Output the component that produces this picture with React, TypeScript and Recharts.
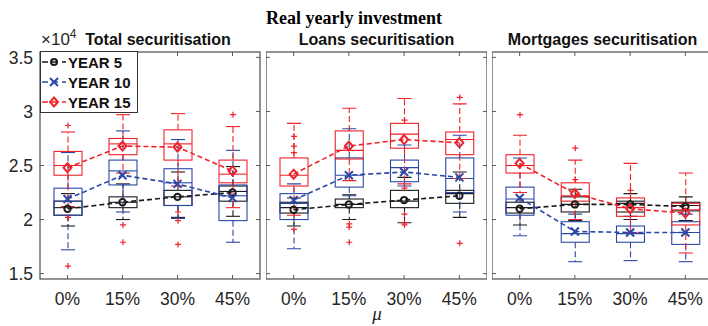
import React from "react";
import { ComposedChart, Bar, Line, XAxis, YAxis, ReferenceArea } from "recharts";

const categories = ["0%", "15%", "30%", "45%"];
const yTicks = [1.5, 2, 2.5, 3, 3.5];
const yDomain = [1.45, 3.55];

// each box: [lower whisker, q1, median, q3, upper whisker]
const totalYear5Box = [
  [1.94, 2.04, 2.11, 2.17, 2.24],
  [2.0, 2.11, 2.16, 2.21, 2.33],
  [2.02, 2.13, 2.21, 2.27, 2.44],
  [2.03, 2.17, 2.26, 2.31, 2.49],
];
const totalYear10Box = [
  [1.72, 2.04, 2.17, 2.29, 2.62],
  [2.07, 2.32, 2.45, 2.55, 2.82],
  [2.01, 2.13, 2.34, 2.47, 2.74],
  [1.79, 1.99, 2.22, 2.32, 2.64],
];
const totalYear15Box = [
  [2.12, 2.41, 2.5, 2.63, 2.81],
  [2.43, 2.6, 2.7, 2.75, 2.97],
  [2.31, 2.55, 2.7, 2.83, 2.98],
  [2.11, 2.34, 2.42, 2.55, 2.86],
];
const totalYear5Mean = [2.1, 2.16, 2.21, 2.25];
const totalYear10Mean = [2.19, 2.41, 2.33, 2.2];
const totalYear15Mean = [2.48, 2.68, 2.67, 2.45];
const totalOutliers = [[2.87, 2.02, 1.57], [1.95, 1.79], [2.07, 1.99, 1.77], [2.97]];

const loansYear5Box = [
  [1.94, 2.06, 2.11, 2.16, 2.2],
  [2.0, 2.11, 2.14, 2.19, 2.23],
  [1.97, 2.11, 2.17, 2.27, 2.39],
  [2.02, 2.15, 2.24, 2.27, 2.44],
];
const loansYear10Box = [
  [1.73, 2.0, 2.15, 2.24, 2.33],
  [2.22, 2.3, 2.41, 2.57, 2.84],
  [2.31, 2.35, 2.48, 2.55, 2.69],
  [2.07, 2.25, 2.38, 2.57, 2.78],
];
const loansYear15Box = [
  [2.04, 2.31, 2.41, 2.57, 2.89],
  [2.36, 2.56, 2.64, 2.82, 3.03],
  [2.33, 2.66, 2.79, 2.89, 3.12],
  [2.38, 2.6, 2.74, 2.81, 3.07],
];
const loansYear5Mean = [2.09, 2.14, 2.18, 2.22];
const loansYear10Mean = [2.18, 2.41, 2.44, 2.39];
const loansYear15Mean = [2.42, 2.68, 2.74, 2.71];
const loansOutliers = [
  [2.77, 2.68, 2.62, 1.91],
  [1.96, 1.93, 1.79],
  [2.92, 2.29, 2.05, 1.97, 1.95],
  [3.13, 1.78],
];

const mortgagesYear5Box = [
  [1.95, 2.06, 2.11, 2.16, 2.25],
  [1.99, 2.07, 2.14, 2.21, 2.28],
  [2.0, 2.07, 2.15, 2.17, 2.24],
  [1.99, 2.08, 2.13, 2.16, 2.21],
];
const mortgagesYear10Box = [
  [1.85, 2.04, 2.19, 2.3, 2.57],
  [1.61, 1.79, 1.87, 1.98, 2.05],
  [1.62, 1.79, 1.87, 1.94, 2.03],
  [1.61, 1.77, 1.88, 1.98, 2.05],
];
const mortgagesYear15Box = [
  [2.25, 2.43, 2.5, 2.6, 2.78],
  [2.0, 2.17, 2.22, 2.34, 2.55],
  [1.88, 2.03, 2.11, 2.2, 2.52],
  [1.69, 1.95, 2.09, 2.15, 2.43],
];
const mortgagesYear5Mean = [2.1, 2.14, 2.14, 2.12];
const mortgagesYear10Mean = [2.2, 1.89, 1.88, 1.88];
const mortgagesYear15Mean = [2.52, 2.24, 2.1, 2.06];
const mortgagesOutliers = [[2.97], [2.66, 2.37], [2.27], []];

const BLACK = "#1a1a1a";
const BLUE = "#2b48a6";
const RED = "#f0222a";
const AXIS = "#5a5a5a";
const TEXT = "#262626";
const SANS = "'Liberation Sans', Arial, sans-serif";

function buildRows(y5, y5m, y10, y10m, y15, y15m, outliers) {
  return categories.map((mu, i) => ({
    mu,
    y5: y5[i],
    y10: y10[i],
    y15: y15[i],
    y5Mean: y5m[i],
    y10Mean: y10m[i],
    y15Mean: y15m[i],
    out: outliers[i],
  }));
}

const totalRows = buildRows(totalYear5Box, totalYear5Mean, totalYear10Box, totalYear10Mean, totalYear15Box, totalYear15Mean, totalOutliers);
const loansRows = buildRows(loansYear5Box, loansYear5Mean, loansYear10Box, loansYear10Mean, loansYear15Box, loansYear15Mean, loansOutliers);
const mortgagesRows = buildRows(mortgagesYear5Box, mortgagesYear5Mean, mortgagesYear10Box, mortgagesYear10Mean, mortgagesYear15Box, mortgagesYear15Mean, mortgagesOutliers);

const rangeOf = (key: string, withOut: boolean) => (d: any) => {
  const b = d[key];
  const pts = withOut ? d.out : [];
  return [Math.min(b[0], ...pts), Math.max(b[4], ...pts)];
};

// box + whiskers + outliers, positioned from the bar's own scaled range
const boxShape = (key: string, color: string, withOut: boolean) => (props: any) => {
  const { x, y, width, height, payload } = props;
  const b = payload[key];
  const pts: number[] = withOut ? payload.out : [];
  const [lo, hi] = rangeOf(key, withOut)(payload);
  const top = Math.min(y, y + height);
  const bottom = Math.max(y, y + height);
  const py = (v: number) => top + ((hi - v) / (hi - lo)) * (bottom - top);
  const cx = x + width / 2;
  const cap = width / 4;
  return (
    <g>
      <line x1={cx} x2={cx} y1={py(b[3])} y2={py(b[4])} stroke={color} strokeWidth={1.1} strokeDasharray="6 3" />
      <line x1={cx} x2={cx} y1={py(b[1])} y2={py(b[0])} stroke={color} strokeWidth={1.1} strokeDasharray="6 3" />
      <line x1={cx - cap} x2={cx + cap} y1={py(b[4])} y2={py(b[4])} stroke={color} strokeWidth={1.1} />
      <line x1={cx - cap} x2={cx + cap} y1={py(b[0])} y2={py(b[0])} stroke={color} strokeWidth={1.1} />
      <rect x={x} y={py(b[3])} width={width} height={py(b[1]) - py(b[3])} fill="none" stroke={color} strokeWidth={1.1} />
      <line x1={x} x2={x + width} y1={py(b[2])} y2={py(b[2])} stroke={color} strokeWidth={1.1} />
      {pts.map((o, i) => (
        <path key={i} d={`M${cx - 3},${py(o)}h6M${cx},${py(o) - 3}v6`} stroke={RED} strokeWidth={1.2} />
      ))}
    </g>
  );
};

// axes box with inward ticks, from the reference area's scaled corners
const frameShape = (props: any) => {
  const left = Math.min(props.x, props.x + props.width);
  const top = Math.min(props.y, props.y + props.height);
  const w = Math.abs(props.width);
  const h = Math.abs(props.height);
  const py = (v: number) => top + ((yDomain[1] - v) / (yDomain[1] - yDomain[0])) * h;
  const band = w / categories.length;
  return (
    <g>
      <rect x={left} y={top} width={w} height={h} fill="none" stroke={AXIS} strokeWidth={1.3} />
      {yTicks.map((v) => (
        <path key={v} d={`M${left},${py(v)}h4M${left + w},${py(v)}h-4`} stroke={AXIS} strokeWidth={1} />
      ))}
      {categories.map((c, i) => (
        <path key={c} d={`M${left + band * (i + 0.5)},${top}v4M${left + band * (i + 0.5)},${top + h}v-4`} stroke={AXIS} strokeWidth={1} />
      ))}
    </g>
  );
};

const circleDot = (p: any) => <circle key={p.index} cx={p.cx} cy={p.cy} r={3.2} fill="none" stroke={BLACK} strokeWidth={2} />;
const crossDot = (p: any) => (
  <path key={p.index} d={`M${p.cx - 4},${p.cy - 4}L${p.cx + 4},${p.cy + 4}M${p.cx - 4},${p.cy + 4}L${p.cx + 4},${p.cy - 4}`} stroke={BLUE} strokeWidth={2} />
);
const diamondDot = (p: any) => (
  <path key={p.index} d={`M${p.cx},${p.cy - 4.5}L${p.cx + 4},${p.cy}L${p.cx},${p.cy + 4.5}L${p.cx - 4},${p.cy}Z`} fill="none" stroke={RED} strokeWidth={2} />
);

const tickStyle = { fontSize: 17.5, fill: TEXT, fontFamily: SANS };

function Panel({ rows, left, width, yAxisWidth, rightMargin }: any) {
  return (
    <div style={{ position: "absolute", left, top: 0 }}>
      <ComposedChart width={width} height={326} data={rows} margin={{ top: 52, right: rightMargin, bottom: 17, left: 0 }}>
        <XAxis xAxisId="main" dataKey="mu" height={30} tickSize={0} tickMargin={14} tickLine={false} axisLine={false} tick={tickStyle} interval={0} />
        <XAxis xAxisId="b5" dataKey="mu" height={0} hide />
        <XAxis xAxisId="b10" dataKey="mu" height={0} hide />
        <XAxis xAxisId="b15" dataKey="mu" height={0} hide />
        <YAxis
          yAxisId="left"
          type="number"
          domain={yDomain}
          ticks={yTicks}
          allowDataOverflow
          hide={yAxisWidth === 0}
          width={yAxisWidth}
          tickSize={0}
          tickMargin={7}
          tickLine={false}
          axisLine={false}
          tick={tickStyle}
          interval={0}
        />
        <ReferenceArea xAxisId="main" yAxisId="left" y1={yDomain[1]} y2={yDomain[0]} ifOverflow="visible" shape={frameShape} />
        <Bar xAxisId="b5" yAxisId="left" dataKey={rangeOf("y5", false)} barSize={28} shape={boxShape("y5", BLACK, false)} isAnimationActive={false} />
        <Bar xAxisId="b10" yAxisId="left" dataKey={rangeOf("y10", false)} barSize={28} shape={boxShape("y10", BLUE, false)} isAnimationActive={false} />
        <Bar xAxisId="b15" yAxisId="left" dataKey={rangeOf("y15", true)} barSize={28} shape={boxShape("y15", RED, true)} isAnimationActive={false} />
        <Line xAxisId="main" yAxisId="left" dataKey="y5Mean" stroke={BLACK} strokeWidth={1.6} strokeDasharray="5 3" dot={circleDot} activeDot={false} isAnimationActive={false} />
        <Line xAxisId="main" yAxisId="left" dataKey="y10Mean" stroke={BLUE} strokeWidth={1.6} strokeDasharray="5 3" dot={crossDot} activeDot={false} isAnimationActive={false} />
        <Line xAxisId="main" yAxisId="left" dataKey="y15Mean" stroke={RED} strokeWidth={1.6} strokeDasharray="5 3" dot={diamondDot} activeDot={false} isAnimationActive={false} />
      </ComposedChart>
    </div>
  );
}

const legendItems = [
  { label: "YEAR 5", color: BLACK, dot: "circle" },
  { label: "YEAR 10", color: BLUE, dot: "cross" },
  { label: "YEAR 15", color: RED, dot: "diamond" },
];

function LegendMarker({ kind, x, y, color }: any) {
  if (kind === "circle") return <circle cx={x} cy={y} r={3} fill="none" stroke={color} strokeWidth={2} />;
  if (kind === "cross") return <path d={`M${x - 4},${y - 4}L${x + 4},${y + 4}M${x - 4},${y + 4}L${x + 4},${y - 4}`} stroke={color} strokeWidth={2} />;
  return <path d={`M${x},${y - 4.5}L${x + 4},${y}L${x},${y + 4.5}L${x - 4},${y}Z`} fill="none" stroke={color} strokeWidth={2} />;
}

export default function App() {
  return (
    <div style={{ position: "relative", width: 708, height: 326, overflow: "hidden", background: "#fff" }}>
      <style>{"body{margin:0}"}</style>
      <Panel rows={totalRows} left={0} width={262} yAxisWidth={40} rightMargin={2} />
      <Panel rows={loansRows} left={266} width={221} yAxisWidth={0} rightMargin={0} />
      <Panel rows={mortgagesRows} left={492} width={221} yAxisWidth={0} rightMargin={0} />
      <svg width={708} height={326} style={{ position: "absolute", left: 0, top: 0, pointerEvents: "none" }}>
        <text x={354} y={24} textAnchor="middle" fontFamily="'Liberation Serif', 'Times New Roman', serif" fontWeight="bold" fontSize={18} fill="#000">
          Real yearly investment
        </text>
        <text x={41} y={45} fontFamily={SANS} fontSize={17} fill={TEXT}>
          ×10<tspan dy={-7} fontSize={12}>4</tspan>
        </text>
        <text x={158} y={45} textAnchor="middle" fontFamily={SANS} fontWeight="bold" fontSize={16} fill="#111">
          Total securitisation
        </text>
        <text x={376.5} y={45} textAnchor="middle" fontFamily={SANS} fontWeight="bold" fontSize={16} fill="#111">
          Loans securitisation
        </text>
        <text x={602.5} y={45} textAnchor="middle" fontFamily={SANS} fontWeight="bold" fontSize={16} fill="#111">
          Mortgages securitisation
        </text>
        <text x={377} y={313} textAnchor="middle" dominantBaseline="central" fontFamily="'Liberation Serif', serif" fontStyle="italic" fontSize={19} fill={TEXT}>
          μ
        </text>
        <rect x={40.5} y={51.5} width={97} height={61} fill="#fff" stroke="#333" strokeWidth={1} />
        {legendItems.map((it, i) => {
          const cy = 62 + i * 20;
          return (
            <g key={it.label}>
              <line x1={42} x2={66} y1={cy} y2={cy} stroke={it.color} strokeWidth={1.6} strokeDasharray="6 4" />
              <LegendMarker kind={it.dot} x={54} y={cy} color={it.color} />
              <text x={68} y={cy} dominantBaseline="central" fontFamily={SANS} fontWeight="bold" fontSize={15} fill="#111">
                {it.label}
              </text>
            </g>
          );
        })}
      </svg>
    </div>
  );
}
